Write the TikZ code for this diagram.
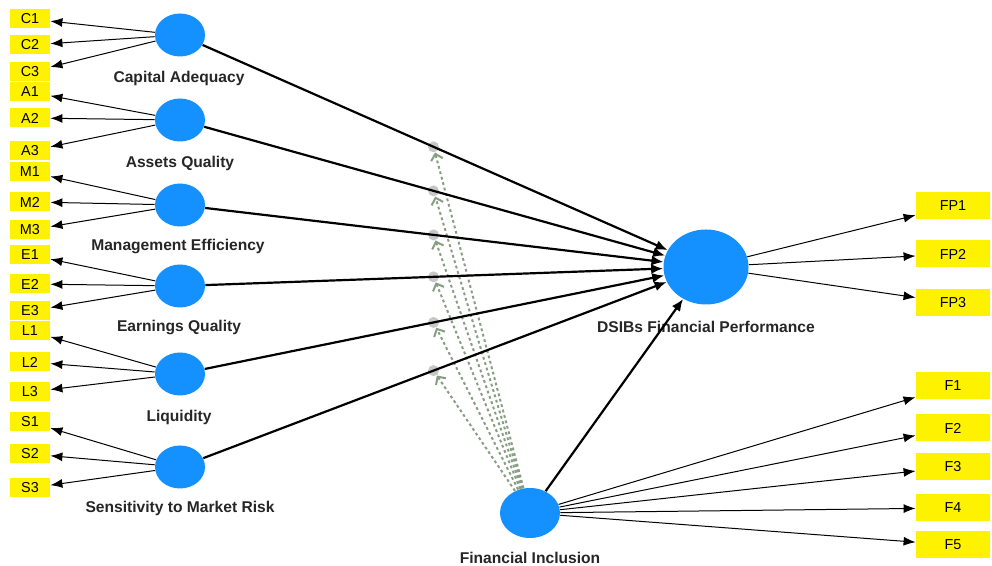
\documentclass[tikz,border=0pt]{standalone}
\usepackage{fontspec}
\setmainfont{Liberation Sans}
\usetikzlibrary{arrows.meta,calc,shapes.geometric}
\definecolor{lvblue}{RGB}{20,144,255}
\definecolor{modgreen}{RGB}{136,158,130}

\begin{document}
\begin{tikzpicture}[x=0.5pt, y=-0.5pt,
    latent/.style={ellipse, fill=lvblue, minimum width=25pt, minimum height=21.5pt, inner sep=0pt},
    ind/.style={rectangle, fill=yellow, minimum width=20pt, minimum height=9.5pt, inner sep=0pt, font=\fontsize{7.2}{8}\selectfont},
    indr/.style={ind, minimum width=37pt, minimum height=13.5pt},
    lbl/.style={font=\bfseries\fontsize{7.8}{9}\selectfont, text=black!85},
    pathline/.style={line width=1.1pt, -{Latex[length=6pt,width=5pt]}},
    loadline/.style={line width=0.5pt, -{Latex[length=6pt,width=4.5pt]}},
    modline/.style={modgreen, line width=1pt, dash pattern=on 1.4pt off 1.4pt, -{Straight Barb[length=3pt,width=6pt]}},
    moddot/.style={circle, fill=black!22, minimum size=5.5pt, inner sep=0pt}]
    \useasboundingbox (0,0) rectangle (992,566);

    % Latent variables
    \node[latent] (CA) at (180,35) {};
    \node[latent] (AQ) at (180,120) {};
    \node[latent] (ME) at (180,205) {};
    \node[latent] (EQ) at (180,286) {};
    \node[latent] (LQ) at (180,374) {};
    \node[latent] (SM) at (180,467) {};
    \node[latent, minimum width=42.5pt, minimum height=37.5pt] (FP) at (706,267) {};
    \node[latent, minimum width=30pt, minimum height=25pt] (FI) at (530,513) {};

    % Labels
    \node[lbl] (CAl) at (179,78) {Capital Adequacy};
    \node[lbl] (AQl) at (180,163) {Assets Quality};
    \node[lbl] (MEl) at (178,247) {Management Efficiency};
    \node[lbl] (EQl) at (179,328) {Earnings Quality};
    \node[lbl] (LQl) at (179,417) {Liquidity};
    \node[lbl] (SMl) at (180,508) {Sensitivity to Market Risk};
    \node[lbl] (FPl) at (706,327) {DSIBs Financial Performance};
    \node[lbl] (FIl) at (530,558) {Financial Inclusion};

    % Indicators
    \foreach \n/\y/\p in {C1/19/CA, C2/45/CA, C3/72/CA, A1/92/AQ, A2/118/AQ, A3/151/AQ,
        M1/172/ME, M2/202/ME, M3/230/ME, E1/255/EQ, E2/284/EQ, E3/311/EQ,
        L1/331/LQ, L2/362/LQ, L3/392/LQ, S1/422/SM, S2/454/SM, S3/488/SM} {
        \node[ind] (\n) at (30,\y) {\n};
        \draw[loadline] (\p) -- (\n);
    }
    \foreach \n/\y/\p in {FP1/206/FP, FP2/254/FP, FP3/303/FP,
        F1/386/FI, F2/428/FI, F3/467/FI, F4/508/FI, F5/545/FI} {
        \node[indr] (\n) at (953,\y) {\n};
        \draw[loadline] (\p) -- (\n);
    }

    % Moderating effects
    \foreach \p in {CA, AQ, ME, EQ, LQ, SM} {
        \node[moddot] (d\p) at ($(\p)!0.482!(FP)$) {};
        \draw[modline] (FI) -- (d\p);
    }

    % Structural paths
    \foreach \p in {CA, AQ, ME, EQ, LQ, SM}
        \draw[pathline] (\p) -- (FP);
    \draw[pathline] (FI) -- (FP);
\end{tikzpicture}
\end{document}
